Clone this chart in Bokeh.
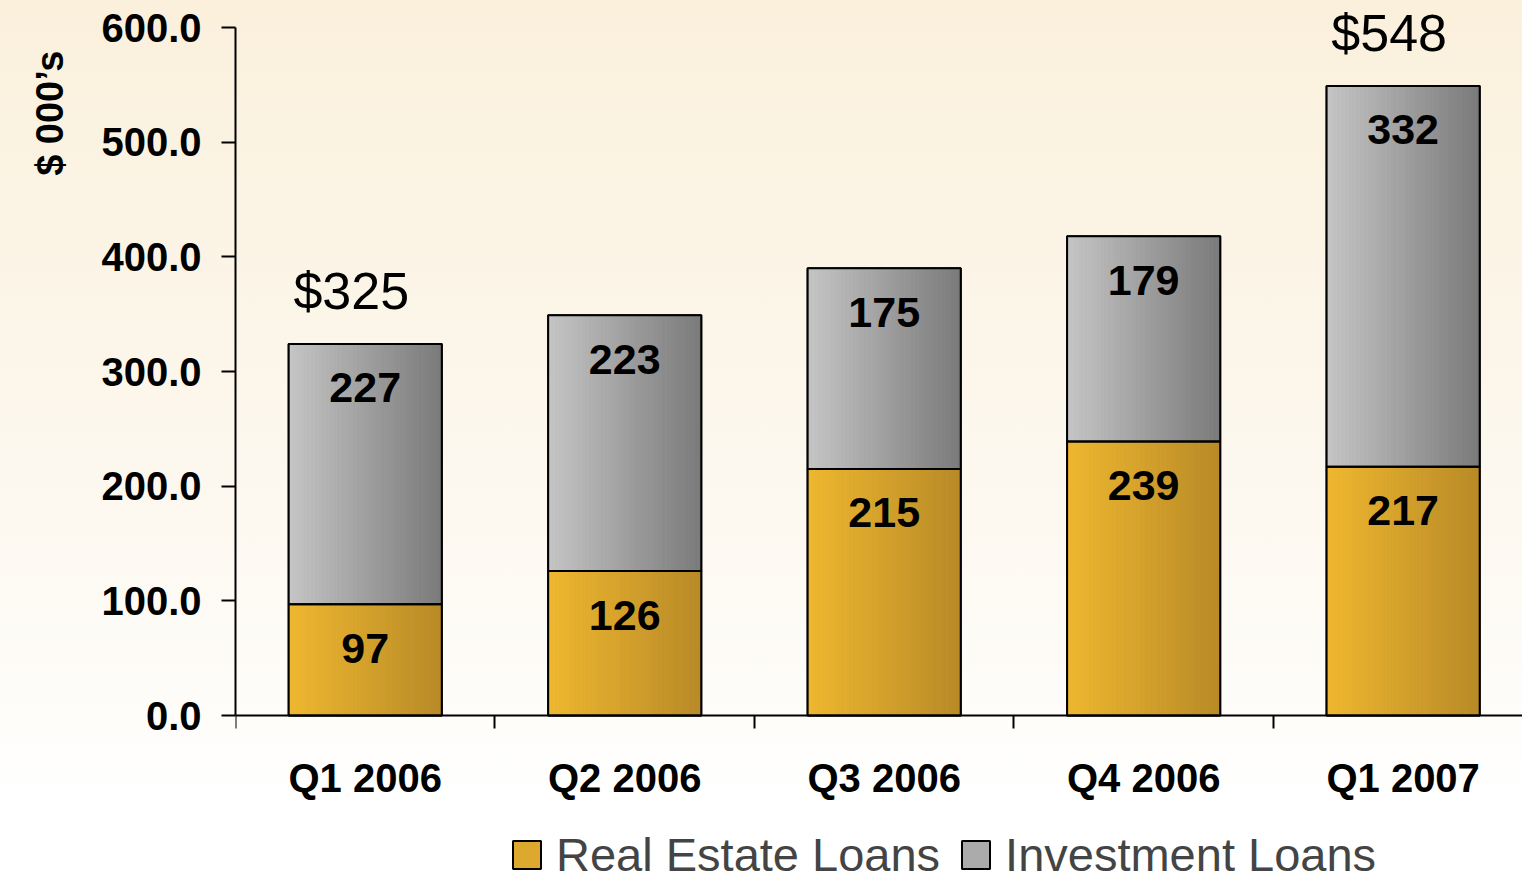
import numpy as np
from bokeh.plotting import figure
from bokeh.models import Range1d, LinearAxis, FixedTicker, Legend, LegendItem, Title
from bokeh.core.properties import value
from bokeh.embed import file_html
from bokeh.resources import INLINE

# ---------------- data ----------------
quarters = ["Q1 2006", "Q2 2006", "Q3 2006", "Q4 2006", "Q1 2007"]
real_estate = [97, 126, 215, 239, 217]
investment = [227, 223, 175, 179, 332]
total_labels = ["$325", "", "", "", "$548"]
y_ticks = [0, 100, 200, 300, 400, 500, 600]
series_names = ["Real Estate Loans", "Investment Loans"]
y_title = "$ 000\u2019s"

# ---------------- style ----------------
FONT = "Liberation Sans"
BAR_W = 0.59
N = 40
YEL_L, YEL_R = (239, 184, 48), (184, 138, 40)
GRY_L, GRY_R = (198, 198, 198), (122, 122, 122)


def lerp(c1, c2, t):
    return "#%02x%02x%02x" % tuple(int(round(a + (b - a) * t)) for a, b in zip(c1, c2))


xs = [i + 0.5 for i in range(len(quarters))]
tops = [r + v for r, v in zip(real_estate, investment)]

p = figure(width=1522, height=882, output_backend="svg", toolbar_location=None,
           x_range=Range1d(0, 4.96), y_range=Range1d(-145.64, 623.55),
           x_axis_location=None, min_border_left=235, min_border_right=0,
           min_border_top=0, min_border_bottom=0, title=None)
p.background_fill_color = None
p.border_fill_color = None
p.outline_line_color = None
p.grid.visible = False
p.styles = {"background": "linear-gradient(to bottom, #FAF0DC 0%, #FDF9F1 60%, #FFFFFF 92%)"}

# base bars (flat, used for legend, covered by gradient slices)
base_re = p.vbar(x=xs, width=BAR_W, bottom=0, top=real_estate,
                 fill_color=lerp(YEL_L, YEL_R, 0.35), line_color="black", line_width=2)
base_inv = p.vbar(x=xs, width=BAR_W, bottom=real_estate, top=tops,
                  fill_color=lerp(GRY_L, GRY_R, 0.35), line_color="black", line_width=2)

# gradient slices
L, R, B, T, C = [], [], [], [], []
for i, x in enumerate(xs):
    for k in range(N):
        t = (k + 0.5) / N
        l = x - BAR_W / 2 + k * BAR_W / N
        r = l + BAR_W / N
        L += [l, l]
        R += [r, r]
        B += [0, real_estate[i]]
        T += [real_estate[i], tops[i]]
        C += [lerp(YEL_L, YEL_R, t), lerp(GRY_L, GRY_R, t)]
p.quad(left=L, right=R, bottom=B, top=T, fill_color=C, line_color=C, line_width=0.6)

# outlines
p.vbar(x=xs, width=BAR_W, bottom=0, top=real_estate, fill_color=None,
       line_color="black", line_width=2)
p.vbar(x=xs, width=BAR_W, bottom=real_estate, top=tops, fill_color=None,
       line_color="black", line_width=2)

# value labels
p.text(x=xs, y=real_estate, text=[str(v) for v in real_estate], y_offset=44,
       text_align="center", text_baseline="middle", text_font=value(FONT),
       text_font_style="bold", text_font_size="43px", text_color="black")
p.text(x=xs, y=tops, text=[str(v) for v in investment], y_offset=44,
       text_align="center", text_baseline="middle", text_font=value(FONT),
       text_font_style="bold", text_font_size="43px", text_color="black")
p.text(x=xs, y=tops, text=total_labels, x_offset=-14, y_offset=-53,
       text_align="center", text_baseline="middle", text_font=value(FONT),
       text_font_size="52px", text_color="black")

# y axis
ya = p.yaxis[0]
ya.ticker = FixedTicker(ticks=y_ticks)
ya.major_label_overrides = {v: f"{v:.1f}" for v in y_ticks}
ya.bounds = (0, 600)
ya.major_tick_out = 14
ya.major_tick_in = 0
ya.minor_tick_out = 0
ya.minor_tick_in = 0
ya.axis_line_width = 2
ya.major_tick_line_width = 2
ya.major_label_standoff = 20
ya.major_label_text_font = FONT
ya.major_label_text_font_style = "bold"
ya.major_label_text_font_size = "40px"
ya.major_label_text_color = "black"

# y axis title placed near the top, as a side title
p.add_layout(Title(text=y_title, align="right", offset=50, standoff=52,
                   vertical_align="top",
                   text_font=FONT, text_font_style="bold", text_font_size="38px",
                   text_color="black"), "left")

# x axis at y=0
xa = LinearAxis(fixed_location=0,
                ticker=FixedTicker(ticks=xs, minor_ticks=[0, 1, 2, 3, 4]),
                major_label_overrides={x: q for x, q in zip(xs, quarters)})
xa.major_tick_out = 0
xa.major_tick_in = 0
xa.minor_tick_out = 13
xa.minor_tick_in = 0
xa.minor_tick_line_width = 2
xa.axis_line_width = 2
xa.major_label_standoff = 27
xa.major_label_text_font = FONT
xa.major_label_text_font_style = "bold"
xa.major_label_text_font_size = "40px"
xa.major_label_text_color = "black"
p.add_layout(xa, "below")

legend = Legend(items=[LegendItem(label=series_names[0], renderers=[base_re]),
                       LegendItem(label=series_names[1], renderers=[base_inv])],
                orientation="horizontal", location=(274, 0),
                label_text_font=FONT, label_text_font_size="47px",
                glyph_width=35, glyph_height=35, label_standoff=12, spacing=18,
                padding=0, margin=0, border_line_color=None,
                background_fill_alpha=0)
p.add_layout(legend)

open("out.html", "w").write(file_html(p, INLINE))
